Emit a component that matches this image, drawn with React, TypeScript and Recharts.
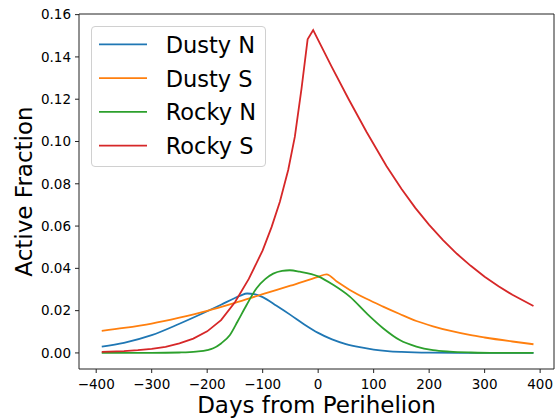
import React from 'react';
import { LineChart, Line, XAxis, YAxis, ReferenceLine } from 'recharts';

const X_TICKS = [-400, -300, -200, -100, 0, 100, 200, 300, 400];
const Y_TICKS = [0, 0.02, 0.04, 0.06, 0.08, 0.1, 0.12, 0.14, 0.16];
const X_DOMAIN = [-431, 425];
const Y_DOMAIN = [-0.0076, 0.1603];

// Dusty N
const dustyNDays = [-390, -350, -300, -250, -200, -175, -150, -140, -128, -115, -100, -75, -50, -25, 0, 25, 50, 75, 100, 125, 150, 200, 250, 300, 350, 388];
const dustyNVals = [0.003, 0.0048, 0.0084, 0.0138, 0.0197, 0.0228, 0.026, 0.0271, 0.0281, 0.0278, 0.0264, 0.0223, 0.018, 0.0135, 0.0095, 0.0064, 0.0042, 0.0027, 0.0016, 0.0009, 0.0005, 0.0001, 0, 0, 0, 0];

// Dusty S
const dustySDays = [-390, -350, -300, -250, -200, -150, -100, -50, 0, 15, 35, 57, 87, 117, 147, 177, 207, 237, 273, 300, 350, 388];
const dustySVals = [0.0104, 0.0118, 0.0139, 0.0167, 0.0199, 0.0237, 0.0278, 0.0318, 0.036, 0.0372, 0.0335, 0.0298, 0.0256, 0.0219, 0.0184, 0.0151, 0.0126, 0.0105, 0.0085, 0.0073, 0.0054, 0.0041];

// Rocky N
const rockyNDays = [-390, -300, -250, -220, -200, -189, -175, -159, -145, -129, -111, -95, -81, -65, -51, -33, 0, 27, 57, 87, 117, 147, 177, 207, 237, 275, 320, 388];
const rockyNVals = [0, 0, 0.0002, 0.0006, 0.0013, 0.0022, 0.0045, 0.0085, 0.015, 0.0227, 0.0306, 0.035, 0.0375, 0.0388, 0.0391, 0.0384, 0.0362, 0.0322, 0.0266, 0.0188, 0.0117, 0.0061, 0.003, 0.0013, 0.0006, 0.0002, 0, 0];

// Rocky S
const rockySDays = [-390, -350, -325, -300, -275, -250, -225, -200, -175, -150, -125, -100, -84, -69, -54, -42, -30, -19, -9, 24, 55, 87, 123, 150, 175, 200, 225, 250, 275, 300, 325, 350, 388];
const rockySVals = [0.0005, 0.0009, 0.0013, 0.0019, 0.0029, 0.0045, 0.0068, 0.0102, 0.0155, 0.024, 0.035, 0.0485, 0.0595, 0.0715, 0.0865, 0.1023, 0.125, 0.1483, 0.1527, 0.1355, 0.12, 0.1046, 0.0884, 0.0776, 0.0686, 0.0606, 0.0534, 0.0469, 0.0412, 0.036, 0.0315, 0.0275, 0.0222];

const toPoints = (days: number[], vals: number[]) => days.map((d, i) => ({ d, v: vals[i] }));

const SERIES = [
  { name: 'Dusty N', color: '#1f77b4', curve: 'monotone', data: toPoints(dustyNDays, dustyNVals) },
  { name: 'Dusty S', color: '#ff7f0e', curve: 'monotone', data: toPoints(dustySDays, dustySVals) },
  { name: 'Rocky N', color: '#2ca02c', curve: 'monotone', data: toPoints(rockyNDays, rockyNVals) },
  { name: 'Rocky S', color: '#d62728', curve: 'linear', data: toPoints(rockySDays, rockySVals) },
];

const FONT = 'DejaVu Sans';
const tickStyle = { fill: '#000', fontSize: 13.5, fontFamily: FONT };
const spine = { stroke: '#222', strokeWidth: 1 };

const minus = (s: string) => s.replace('-', '\u2212');

const ChartLegend = () => (
  <div
    style={{
      position: 'absolute', left: 91, top: 26, width: 175, height: 141,
      boxSizing: 'border-box', border: '1px solid #d0d0d0', borderRadius: 4,
      background: 'rgba(255,255,255,0.8)',
    }}
  >
    <svg width={175} height={141} style={{ position: 'absolute', left: -1, top: -1 }}>
      {SERIES.map((s, i) => {
        const y = 18.3 + i * 33.8;
        return (
          <g key={s.name}>
            <line x1={8} x2={56} y1={y} y2={y} stroke={s.color} strokeWidth={1.8} />
            <text x={74.7} y={y + 8.4} fontSize={22.5} fontFamily={FONT} fill="#000">{s.name}</text>
          </g>
        );
      })}
    </svg>
  </div>
);

export default function App() {
  return (
    <div style={{ position: 'absolute', left: 0, top: 0, width: 555, height: 419, background: '#fff' }}>
      <LineChart width={555} height={419} margin={{ top: 14, right: 1, bottom: 0, left: 0 }}>
        <XAxis
          xAxisId="b" type="number" dataKey="d" domain={X_DOMAIN} ticks={X_TICKS}
          allowDataOverflow height={50} tickSize={4} tickMargin={6}
          tick={tickStyle} tickLine={spine} axisLine={spine}
          tickFormatter={(v: number) => minus(String(v))}
          label={{
            content: (p: any) => (
              <text x={p.viewBox.x + p.viewBox.width / 2} y={p.viewBox.y + 44} textAnchor="middle"
                fontSize={23} fontFamily={FONT} fill="#000">Days from Perihelion</text>
            ),
          }}
        />
        <YAxis
          yAxisId="l" type="number" domain={Y_DOMAIN} ticks={Y_TICKS} allowDataOverflow
          width={79} tickSize={4} tickMargin={4}
          tick={tickStyle} tickLine={spine} axisLine={spine}
          tickFormatter={(v: number) => v.toFixed(2)}
          label={{
            content: (p: any) => {
              const cx = 32;
              const cy = p.viewBox.y + p.viewBox.height / 2;
              return (
                <text x={cx} y={cy} transform={`rotate(-90, ${cx}, ${cy})`} textAnchor="middle"
                  fontSize={23} fontFamily={FONT} fill="#000">Active Fraction</text>
              );
            },
          }}
        />
        {/* top and right spines */}
        <ReferenceLine xAxisId="b" yAxisId="l" y={Y_DOMAIN[1]} stroke="#222" strokeWidth={1} ifOverflow="extendDomain" />
        <ReferenceLine xAxisId="b" yAxisId="l" x={X_DOMAIN[1]} stroke="#222" strokeWidth={1} ifOverflow="extendDomain" />
        {SERIES.map((s) => (
          <Line
            key={s.name} xAxisId="b" yAxisId="l" data={s.data} dataKey="v" name={s.name}
            type={s.curve as any} stroke={s.color} strokeWidth={1.8} dot={false}
            isAnimationActive={false}
          />
        ))}
      </LineChart>
      <ChartLegend />
    </div>
  );
}
